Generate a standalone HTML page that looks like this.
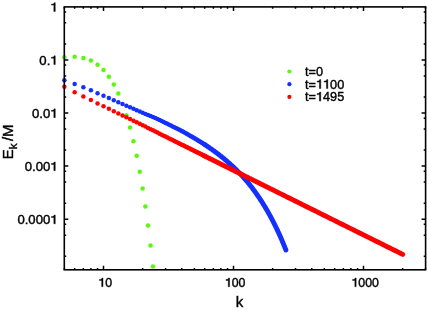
<!DOCTYPE html>
<html><head><meta charset="utf-8"><style>
html,body{margin:0;padding:0;background:#fff;width:427px;height:311px;overflow:hidden}
svg{display:block;will-change:transform}
text{font-family:"Liberation Sans",sans-serif;fill:#000}
.h{fill:none;stroke:none}
</style></head><body><svg width="427" height="311" viewBox="0 0 427 311"><defs><path id="one" d="M0.378 0V-0.709H0.300C0.28 -0.625 0.21 -0.59 0.08 -0.583V-0.512H0.270V0Z"/></defs><g fill="#5cf80c"><circle cx="64.37" cy="57.23" r="2.25"/><circle cx="74.66" cy="56.72" r="2.25"/><circle cx="83.36" cy="57.89" r="2.25"/><circle cx="90.90" cy="60.58" r="2.25"/><circle cx="97.55" cy="64.66" r="2.25"/><circle cx="103.50" cy="70.05" r="2.25"/><circle cx="108.88" cy="76.69" r="2.25"/><circle cx="113.79" cy="84.56" r="2.25"/><circle cx="118.31" cy="93.60" r="2.25"/><circle cx="126.39" cy="115.15" r="2.25"/><circle cx="130.04" cy="127.61" r="2.25"/><circle cx="133.46" cy="141.19" r="2.25"/><circle cx="136.69" cy="155.86" r="2.25"/><circle cx="139.74" cy="171.63" r="2.25"/><circle cx="142.63" cy="188.47" r="2.25"/><circle cx="145.39" cy="206.40" r="2.25"/><circle cx="148.01" cy="225.39" r="2.25"/><circle cx="150.52" cy="245.45" r="2.25"/><circle cx="152.93" cy="266.57" r="2.25"/></g><g fill="#1430ff"><circle cx="64.37" cy="80.35" r="2.25"/><circle cx="74.66" cy="83.99" r="2.25"/><circle cx="83.36" cy="87.32" r="2.25"/><circle cx="90.90" cy="90.36" r="2.25"/><circle cx="97.55" cy="93.14" r="2.25"/><circle cx="103.50" cy="95.68" r="2.25"/><circle cx="108.88" cy="98.01" r="2.25"/><circle cx="113.79" cy="100.16" r="2.25"/><circle cx="118.31" cy="102.15" r="2.25"/><circle cx="122.50" cy="104.00" r="2.25"/><circle cx="126.39" cy="105.71" r="2.25"/><circle cx="130.04" cy="107.32" r="2.25"/><circle cx="133.46" cy="108.82" r="2.25"/><circle cx="136.69" cy="110.23" r="2.25"/><circle cx="139.74" cy="111.56" r="2.25"/><circle cx="142.63" cy="112.74" r="2.25"/><circle cx="145.39" cy="113.88" r="2.25"/><circle cx="148.01" cy="114.97" r="2.25"/><circle cx="150.52" cy="116.02" r="2.25"/><circle cx="152.93" cy="117.05" r="2.25"/><circle cx="155.23" cy="118.06" r="2.25"/><circle cx="157.45" cy="119.06" r="2.25"/><circle cx="159.58" cy="120.06" r="2.25"/><circle cx="161.63" cy="121.03" r="2.25"/><circle cx="163.61" cy="121.98" r="2.25"/><circle cx="165.53" cy="122.90" r="2.25"/><circle cx="167.38" cy="123.79" r="2.25"/><circle cx="169.17" cy="124.67" r="2.25"/><circle cx="170.91" cy="125.53" r="2.25"/><circle cx="172.59" cy="126.38" r="2.25"/><circle cx="174.23" cy="127.20" r="2.25"/><circle cx="175.82" cy="128.01" r="2.25"/><circle cx="177.37" cy="128.81" r="2.25"/><circle cx="178.87" cy="129.59" r="2.25"/><circle cx="180.34" cy="130.36" r="2.25"/><circle cx="181.77" cy="131.12" r="2.25"/><circle cx="183.16" cy="131.87" r="2.25"/><circle cx="184.52" cy="132.61" r="2.25"/><circle cx="185.85" cy="133.33" r="2.25"/><circle cx="187.15" cy="134.05" r="2.25"/><circle cx="188.42" cy="134.76" r="2.25"/><circle cx="189.66" cy="135.46" r="2.25"/><circle cx="190.87" cy="136.15" r="2.25"/><circle cx="192.06" cy="136.83" r="2.25"/><circle cx="193.23" cy="137.51" r="2.25"/><circle cx="194.37" cy="138.18" r="2.25"/><circle cx="195.48" cy="138.84" r="2.25"/><circle cx="196.58" cy="139.50" r="2.25"/><circle cx="197.66" cy="140.15" r="2.25"/><circle cx="198.71" cy="140.80" r="2.25"/><circle cx="199.75" cy="141.44" r="2.25"/><circle cx="200.76" cy="142.07" r="2.25"/><circle cx="201.76" cy="142.70" r="2.25"/><circle cx="202.75" cy="143.32" r="2.25"/><circle cx="203.71" cy="143.95" r="2.25"/><circle cx="204.66" cy="144.56" r="2.25"/></g><polyline points="204.66,144.56 205.59,145.17 206.51,145.78 207.41,146.39 208.30,146.99 209.18,147.58 210.04,148.18 210.89,148.77 211.73,149.36 212.55,149.94 213.36,150.52 214.16,151.10 214.95,151.68 215.73,152.25 216.50,152.83 217.26,153.40 218.01,153.96 218.74,154.53 219.47,155.09 220.19,155.66 220.90,156.22 221.60,156.78 222.30,157.33 222.98,157.89 223.66,158.44 224.32,158.99 224.98,159.54 225.64,160.09 226.28,160.64 226.92,161.19 227.55,161.74 228.18,162.28 228.79,162.83 229.40,163.37 230.01,163.91 230.60,164.45 231.20,164.99 231.78,165.53 232.36,166.07 232.93,166.61 233.50,167.14 234.06,167.68 234.62,168.22 235.17,168.75 235.71,169.29 236.25,169.82 236.79,170.35 237.32,170.89 237.85,171.42 238.37,171.95 238.88,172.48 239.39,173.02 239.90,173.55 240.40,174.08 240.90,174.61 241.39,175.14 241.88,175.67 242.36,176.20 242.84,176.73 243.32,177.26 243.79,177.79 244.26,178.32 244.73,178.85 245.19,179.38 245.64,179.90 246.10,180.43 246.55,180.96 246.99,181.49 247.44,182.02 247.88,182.55 248.31,183.08 248.75,183.61 249.17,184.14 249.60,184.66 250.02,185.19 250.44,185.72 250.86,186.25 251.27,186.78 251.68,187.31 252.09,187.84 252.50,188.37 252.90,188.90 253.30,189.43 253.69,189.96 254.09,190.49 254.48,191.02 254.87,191.55 255.25,192.08 255.63,192.62 256.01,193.15 256.39,193.68 256.77,194.21 257.14,194.74 257.51,195.28 257.88,195.81 258.24,196.34 258.61,196.88 258.97,197.41 259.33,197.94 259.68,198.48 260.04,199.01 260.39,199.55 260.74,200.08 261.08,200.62 261.43,201.16 261.77,201.69 262.11,202.23 262.45,202.77 262.79,203.30 263.13,203.84 263.46,204.38 263.79,204.92 264.12,205.45 264.45,205.99 264.77,206.53 265.09,207.07 265.42,207.61 265.74,208.14 266.05,208.68 266.37,209.22 266.69,209.76 267.00,210.30 267.31,210.84 267.62,211.38 267.93,211.92 268.23,212.46 268.54,213.00 268.84,213.54 269.14,214.08 269.44,214.62 269.74,215.16 270.03,215.70 270.33,216.24 270.62,216.78 270.91,217.33 271.20,217.87 271.49,218.41 271.78,218.96 272.07,219.50 272.35,220.04 272.63,220.59 272.86,221.02 273.08,221.46 273.31,221.90 273.53,222.34 273.76,222.78 273.98,223.22 274.21,223.67 274.43,224.12 274.66,224.57 274.88,225.02 275.11,225.48 275.33,225.94 275.56,226.39 275.78,226.86 276.01,227.32 276.23,227.78 276.46,228.25 276.68,228.72 276.91,229.19 277.13,229.67 277.36,230.14 277.58,230.62 277.81,231.10 278.03,231.59 278.26,232.07 278.48,232.56 278.71,233.05 278.93,233.54 279.16,234.03 279.38,234.53 279.61,235.03 279.83,235.53 280.06,236.04 280.28,236.54 280.51,237.05 280.73,237.56 280.96,238.07 281.18,238.59 281.41,239.11 281.63,239.63 281.86,240.15 282.08,240.68 282.31,241.21 282.53,241.74 282.76,242.27 282.98,242.81 283.21,243.35 283.43,243.89 283.66,244.43 283.88,244.98 284.11,245.53 284.33,246.08 284.56,246.63 284.78,247.19 285.01,247.75 285.23,248.31 285.46,248.88 285.68,249.45 285.91,250.02" fill="none" stroke="#1430ff" stroke-width="4.90" stroke-linecap="round" stroke-linejoin="round"/><g fill="#ff0000"><circle cx="64.37" cy="86.67" r="2.25"/><circle cx="74.66" cy="92.18" r="2.25"/><circle cx="83.36" cy="96.60" r="2.25"/><circle cx="90.90" cy="100.09" r="2.25"/><circle cx="97.55" cy="103.40" r="2.25"/><circle cx="103.50" cy="106.20" r="2.25"/><circle cx="108.88" cy="108.82" r="2.25"/><circle cx="113.79" cy="111.21" r="2.25"/><circle cx="118.31" cy="113.40" r="2.25"/><circle cx="122.50" cy="115.38" r="2.25"/><circle cx="126.39" cy="117.22" r="2.25"/><circle cx="130.04" cy="118.98" r="2.25"/><circle cx="133.46" cy="120.68" r="2.25"/><circle cx="136.69" cy="122.28" r="2.25"/><circle cx="139.74" cy="123.79" r="2.25"/><circle cx="142.63" cy="125.23" r="2.25"/><circle cx="145.39" cy="126.60" r="2.25"/><circle cx="148.01" cy="127.90" r="2.25"/><circle cx="150.52" cy="129.15" r="2.25"/><circle cx="152.93" cy="130.34" r="2.25"/><circle cx="155.23" cy="131.49" r="2.25"/><circle cx="157.45" cy="132.59" r="2.25"/><circle cx="159.58" cy="133.65" r="2.25"/><circle cx="161.63" cy="134.66" r="2.25"/><circle cx="163.61" cy="135.65" r="2.25"/><circle cx="165.53" cy="136.60" r="2.25"/><circle cx="167.38" cy="137.52" r="2.25"/><circle cx="169.17" cy="138.41" r="2.25"/><circle cx="170.91" cy="139.27" r="2.25"/><circle cx="172.59" cy="140.11" r="2.25"/><circle cx="174.23" cy="140.92" r="2.25"/><circle cx="175.82" cy="141.71" r="2.25"/><circle cx="177.37" cy="142.48" r="2.25"/><circle cx="178.87" cy="143.23" r="2.25"/><circle cx="180.34" cy="143.95" r="2.25"/><circle cx="181.77" cy="144.66" r="2.25"/><circle cx="183.16" cy="145.36" r="2.25"/><circle cx="184.52" cy="146.03" r="2.25"/><circle cx="185.85" cy="146.69" r="2.25"/><circle cx="187.15" cy="147.34" r="2.25"/><circle cx="188.42" cy="147.97" r="2.25"/><circle cx="189.66" cy="148.58" r="2.25"/><circle cx="190.87" cy="149.19" r="2.25"/><circle cx="192.06" cy="149.78" r="2.25"/><circle cx="193.23" cy="150.35" r="2.25"/><circle cx="194.37" cy="150.92" r="2.25"/><circle cx="195.48" cy="151.48" r="2.25"/><circle cx="196.58" cy="152.02" r="2.25"/><circle cx="197.66" cy="152.55" r="2.25"/><circle cx="198.71" cy="153.08" r="2.25"/><circle cx="199.75" cy="153.59" r="2.25"/><circle cx="200.76" cy="154.10" r="2.25"/><circle cx="201.76" cy="154.59" r="2.25"/><circle cx="202.75" cy="155.08" r="2.25"/><circle cx="203.71" cy="155.56" r="2.25"/><circle cx="204.66" cy="156.03" r="2.25"/></g><polyline points="204.66,156.03 205.59,156.50 206.51,156.95 207.41,157.40 208.30,157.84 209.18,158.28 210.04,158.70 210.89,159.13 211.73,159.54 212.55,159.95 213.36,160.35 214.16,160.75 214.95,161.14 215.73,161.53 216.50,161.91 217.26,162.29 218.01,162.66 218.74,163.03 219.47,163.39 220.19,163.74 220.90,164.10 221.60,164.45 222.30,164.79 222.98,165.13 223.66,165.46 224.32,165.80 224.98,166.12 225.64,166.45 226.28,166.77 226.92,167.09 227.55,167.40 228.18,167.71 228.79,168.02 229.40,168.32 230.01,168.62 230.60,168.91 231.20,169.21 231.78,169.50 232.36,169.79 232.93,170.07 233.50,170.35 234.06,170.63 234.62,170.91 235.17,171.18 235.71,171.45 236.25,171.72 236.79,171.99 237.32,172.25 237.85,172.51 238.37,172.77 238.88,173.02 239.39,173.28 239.90,173.53 240.40,173.78 240.90,174.03 241.39,174.27 241.88,174.51 242.36,174.75 242.84,174.99 243.32,175.23 243.79,175.46 244.26,175.70 244.73,175.93 245.19,176.16 245.64,176.38 246.10,176.61 246.55,176.83 246.99,177.05 247.44,177.27 247.88,177.49 248.31,177.71 248.75,177.92 249.17,178.14 249.60,178.35 250.02,178.56 250.44,178.77 250.86,178.97 251.27,179.18 251.68,179.38 252.09,179.58 252.50,179.79 252.90,179.99 253.30,180.18 253.69,180.38 254.09,180.58 254.48,180.77 254.87,180.96 255.25,181.15 255.63,181.34 256.01,181.53 256.39,181.72 256.77,181.91 257.14,182.09 257.51,182.28 257.88,182.46 258.24,182.64 258.61,182.82 258.97,183.00 259.33,183.18 259.68,183.35 260.04,183.53 260.39,183.70 260.74,183.88 261.08,184.05 261.43,184.22 261.77,184.39 262.11,184.56 262.45,184.73 262.79,184.90 263.13,185.06 263.46,185.23 263.79,185.39 264.12,185.56 264.45,185.72 264.77,185.88 265.09,186.04 265.42,186.20 265.74,186.36 266.05,186.52 266.37,186.68 266.69,186.83 267.00,186.99 267.31,187.14 267.62,187.29 267.93,187.45 268.23,187.60 268.54,187.75 268.84,187.90 269.14,188.05 269.44,188.20 269.74,188.35 270.03,188.49 270.33,188.64 270.62,188.79 270.91,188.93 271.20,189.08 271.49,189.22 271.78,189.36 272.07,189.50 272.35,189.64 272.63,189.79 274.84,190.88 277.04,191.97 279.24,193.07 281.45,194.16 283.65,195.26 285.85,196.35 288.06,197.44 290.26,198.54 292.46,199.63 294.67,200.73 296.87,201.82 299.07,202.91 301.28,204.01 303.48,205.10 305.68,206.20 307.89,207.29 310.09,208.39 312.29,209.48 314.50,210.57 316.70,211.67 318.91,212.76 321.11,213.86 323.31,214.95 325.52,216.04 327.72,217.14 329.92,218.23 332.13,219.33 334.33,220.42 336.53,221.51 338.74,222.61 340.94,223.70 343.14,224.80 345.35,225.89 347.55,226.99 349.75,228.08 351.96,229.17 354.16,230.27 356.36,231.36 358.57,232.46 360.77,233.55 362.97,234.64 365.18,235.74 367.38,236.83 369.58,237.93 371.79,239.02 373.99,240.11 376.19,241.21 378.40,242.30 380.60,243.40 382.80,244.49 385.01,245.59 387.21,246.68 389.41,247.77 391.62,248.87 393.82,249.96 396.02,251.06 398.23,252.15 400.43,253.24 402.63,254.34" fill="none" stroke="#ff0000" stroke-width="4.90" stroke-linecap="round" stroke-linejoin="round"/><rect x="64.30" y="6.90" width="361.30" height="262.90" fill="none" stroke="#000" stroke-width="1.6"/><path d="M64.37 269.80v-1.90M64.37 6.90v1.90M74.66 269.80v-1.90M74.66 6.90v1.90M83.36 269.80v-1.90M83.36 6.90v1.90M90.90 269.80v-1.90M90.90 6.90v1.90M97.55 269.80v-1.90M97.55 6.90v1.90M103.50 269.80v-4.00M103.50 6.90v4.00M142.63 269.80v-1.90M142.63 6.90v1.90M165.53 269.80v-1.90M165.53 6.90v1.90M181.77 269.80v-1.90M181.77 6.90v1.90M194.37 269.80v-1.90M194.37 6.90v1.90M204.66 269.80v-1.90M204.66 6.90v1.90M213.36 269.80v-1.90M213.36 6.90v1.90M220.90 269.80v-1.90M220.90 6.90v1.90M227.55 269.80v-1.90M227.55 6.90v1.90M233.50 269.80v-4.00M233.50 6.90v4.00M272.63 269.80v-1.90M272.63 6.90v1.90M295.53 269.80v-1.90M295.53 6.90v1.90M311.77 269.80v-1.90M311.77 6.90v1.90M324.37 269.80v-1.90M324.37 6.90v1.90M334.66 269.80v-1.90M334.66 6.90v1.90M343.36 269.80v-1.90M343.36 6.90v1.90M350.90 269.80v-1.90M350.90 6.90v1.90M357.55 269.80v-1.90M357.55 6.90v1.90M363.50 269.80v-4.00M363.50 6.90v4.00M402.63 269.80v-1.90M402.63 6.90v1.90M425.53 269.80v-1.90M425.53 6.90v1.90M64.30 11.95h1.90M425.60 11.95h-1.90M64.30 22.78h1.90M425.60 22.78h-1.90M64.30 43.92h1.90M425.60 43.92h-1.90M64.30 59.90h4.00M425.60 59.90h-4.00M64.30 65.05h1.90M425.60 65.05h-1.90M64.30 75.88h1.90M425.60 75.88h-1.90M64.30 97.02h1.90M425.60 97.02h-1.90M64.30 113.00h4.00M425.60 113.00h-4.00M64.30 118.15h1.90M425.60 118.15h-1.90M64.30 128.98h1.90M425.60 128.98h-1.90M64.30 150.12h1.90M425.60 150.12h-1.90M64.30 166.10h4.00M425.60 166.10h-4.00M64.30 171.25h1.90M425.60 171.25h-1.90M64.30 182.08h1.90M425.60 182.08h-1.90M64.30 203.22h1.90M425.60 203.22h-1.90M64.30 219.20h4.00M425.60 219.20h-4.00M64.30 224.35h1.90M425.60 224.35h-1.90M64.30 235.18h1.90M425.60 235.18h-1.90M64.30 256.32h1.90M425.60 256.32h-1.90" stroke="#000" stroke-width="1.5" fill="none"/><g transform="translate(55.20 0) scale(1.060 1) translate(-55.20 0)"><text x="50.57" y="11.43" font-size="12.40" stroke="#000" stroke-width="0.4"><tspan class="h">1</tspan></text><use href="#one" transform="translate(50.57 11.43) scale(12.400)" stroke="#000" stroke-width="0.0323"/></g><g transform="translate(55.20 0) scale(1.060 1) translate(-55.20 0)"><text x="40.23 47.13 50.57" y="64.53" font-size="12.40" stroke="#000" stroke-width="0.4">0.<tspan class="h">1</tspan></text><use href="#one" transform="translate(50.57 64.53) scale(12.400)" stroke="#000" stroke-width="0.0323"/></g><g transform="translate(55.20 0) scale(1.060 1) translate(-55.20 0)"><text x="33.34 40.23 43.68 50.57" y="117.63" font-size="12.40" stroke="#000" stroke-width="0.4">0.0<tspan class="h">1</tspan></text><use href="#one" transform="translate(50.57 117.63) scale(12.400)" stroke="#000" stroke-width="0.0323"/></g><g transform="translate(55.20 0) scale(1.060 1) translate(-55.20 0)"><text x="26.44 33.34 36.79 43.68 50.57" y="170.73" font-size="12.40" stroke="#000" stroke-width="0.4">0.00<tspan class="h">1</tspan></text><use href="#one" transform="translate(50.57 170.73) scale(12.400)" stroke="#000" stroke-width="0.0323"/></g><g transform="translate(55.20 0) scale(1.060 1) translate(-55.20 0)"><text x="19.55 26.44 29.89 36.79 43.68 50.57" y="223.83" font-size="12.40" stroke="#000" stroke-width="0.4">0.000<tspan class="h">1</tspan></text><use href="#one" transform="translate(50.57 223.83) scale(12.400)" stroke="#000" stroke-width="0.0323"/></g><text x="98.36 105.20" y="286.70" font-size="12.30" stroke="#000" stroke-width="0.4"><tspan class="h">1</tspan>0</text><use href="#one" transform="translate(98.36 286.70) scale(12.300)" stroke="#000" stroke-width="0.0325"/><text x="224.94 231.78 238.62" y="286.70" font-size="12.30" stroke="#000" stroke-width="0.4"><tspan class="h">1</tspan>00</text><use href="#one" transform="translate(224.94 286.70) scale(12.300)" stroke="#000" stroke-width="0.0325"/><text x="351.52 358.36 365.20 372.04" y="286.70" font-size="12.30" stroke="#000" stroke-width="0.4"><tspan class="h">1</tspan>000</text><use href="#one" transform="translate(351.52 286.70) scale(12.300)" stroke="#000" stroke-width="0.0325"/><text x="239.5" y="307.0" text-anchor="middle" font-size="15" stroke="#000" stroke-width="0.4">k</text><text transform="translate(13.1 159.2) rotate(-90)" font-size="15" stroke="#000" stroke-width="0.4"><tspan x="0" y="0">E</tspan><tspan x="9.9" y="4.3" font-size="11.7">k</tspan><tspan x="18.1" y="0">/</tspan><tspan x="22.2" y="0">M</tspan></text><circle cx="289.4" cy="71.50" r="2.10" fill="#5cf80c"/><text x="305.01 308.54 315.96" y="75.60" font-size="12.70" stroke="#000" stroke-width="0.4">t=0</text><circle cx="289.4" cy="84.20" r="2.10" fill="#1430ff"/><text x="305.01 308.54 315.96 323.02 330.08 337.14" y="88.60" font-size="12.70" stroke="#000" stroke-width="0.4">t=<tspan class="h">1</tspan><tspan class="h">1</tspan>00</text><use href="#one" transform="translate(315.96 88.60) scale(12.700)" stroke="#000" stroke-width="0.0315"/><use href="#one" transform="translate(323.02 88.60) scale(12.700)" stroke="#000" stroke-width="0.0315"/><circle cx="289.4" cy="96.90" r="2.10" fill="#ff0000"/><text x="305.01 308.54 315.96 323.02 330.08 337.14" y="101.10" font-size="12.70" stroke="#000" stroke-width="0.4">t=<tspan class="h">1</tspan>495</text><use href="#one" transform="translate(315.96 101.10) scale(12.700)" stroke="#000" stroke-width="0.0315"/></svg></body></html>
